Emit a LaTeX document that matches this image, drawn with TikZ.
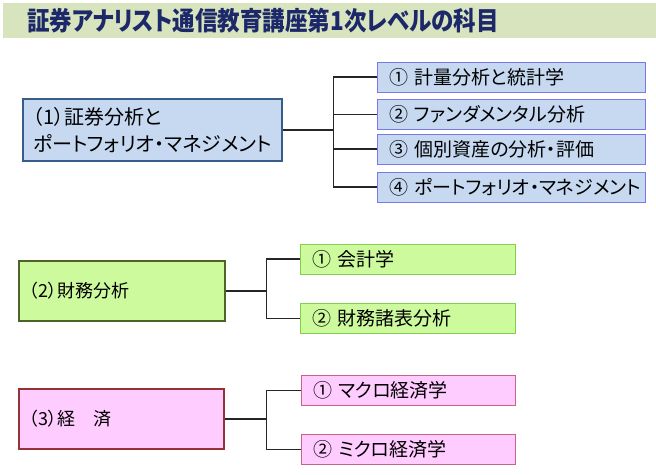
\documentclass[tikz,border=0pt]{standalone}
\usepackage{fontspec}
\setmainfont[RawFeature=+palt]{Noto Sans CJK JP}
\usetikzlibrary{calc}

\definecolor{titlebg}{RGB}{215,228,189}
\definecolor{titleblue}{RGB}{28,40,105}
\definecolor{bluefill}{RGB}{198,217,241}
\definecolor{blueline}{RGB}{56,93,138}
\definecolor{bluesub}{RGB}{120,120,230}
\definecolor{greenfill}{RGB}{206,250,158}
\definecolor{greenline}{RGB}{79,98,40}
\definecolor{greensub}{RGB}{130,206,80}
\definecolor{pinkfill}{RGB}{255,204,255}
\definecolor{pinkline}{RGB}{150,50,55}
\definecolor{pinksub}{RGB}{200,100,130}

\begin{document}
\begin{tikzpicture}[x=1pt,y=-1pt,
    mainbox/.style={rectangle,line width=1.6pt,inner xsep=10pt,inner ysep=2pt,align=left,
      font=\fontsize{18}{27}\selectfont},
    subbox/.style={rectangle,line width=1pt,inner xsep=12pt,inner ysep=2pt,minimum height=30pt,
      align=left,font=\fontsize{19}{22}\selectfont},
    conn/.style={line width=1.2pt,draw=black!85}]
  \useasboundingbox (0,0) rectangle (656,474);
  \fill [titlebg] (3,3) rectangle (656,38);
  \node (title) [anchor=west,inner sep=0pt,text=titleblue,font=\bfseries\fontsize{22.5}{26}\selectfont]
    at (27,21) {\scalebox{1}[1.15]{証券アナリスト通信教育講座第1次レベルの科目}};

  % (1)
  \node (m1) [mainbox,draw=blueline,fill=bluefill,text width=239pt,minimum height=62pt,
    font=\fontsize{20}{27}\selectfont] at (152.5,130) {（1）証券分析と\\ポートフォリオ・マネジメント};
  \foreach \n/\y/\t in {a/77/① 計量分析と統計学,b/114.5/② ファンダメンタル分析,
      c/149/③ 個別資産の分析・評価,d/187/④ ポートフォリオ・マネジメント}{
    \node (s1\n) [subbox,draw=bluesub,fill=bluefill,text width=244pt] at (511,\y) {\mbox{\t}};
  }
  \coordinate (j1) at ($ (m1.east)+(51,0) $);
  \foreach \n in {a,b,c,d}{
    \draw [conn] (m1.east) -- (j1) |- (s1\n.west);
  }

  % (2)
  \node (m2) [mainbox,draw=greenline,fill=greenfill,text width=186pt,minimum height=60pt]
    at (122,291) {（2）財務分析};
  \foreach \n/\y/\t in {a/259/① 会計学,b/318.5/② 財務諸表分析}{
    \node (s2\n) [subbox,draw=greensub,fill=greenfill,text width=191pt] at (407.5,\y) {\mbox{\t}};
  }
  \coordinate (j2) at ($ (m2.east)+(41,0) $);
  \foreach \n in {a,b}{
    \draw [conn] (m2.east) -- (j2) |- (s2\n.west);
  }

  % (3)
  \node (m3) [mainbox,draw=pinkline,fill=pinkfill,text width=185pt,minimum height=60pt]
    at (121.5,419) {（3）経　済};
  \foreach \n/\y/\t in {a/390.5/① マクロ経済学,b/449.5/② ミクロ経済学}{
    \node (s3\n) [subbox,draw=pinksub,fill=pinkfill,text width=190pt] at (408,\y) {\mbox{\t}};
  }
  \coordinate (j3) at ($ (m3.east)+(42,0) $);
  \foreach \n in {a,b}{
    \draw [conn] (m3.east) -- (j3) |- (s3\n.west);
  }
\end{tikzpicture}
\end{document}
